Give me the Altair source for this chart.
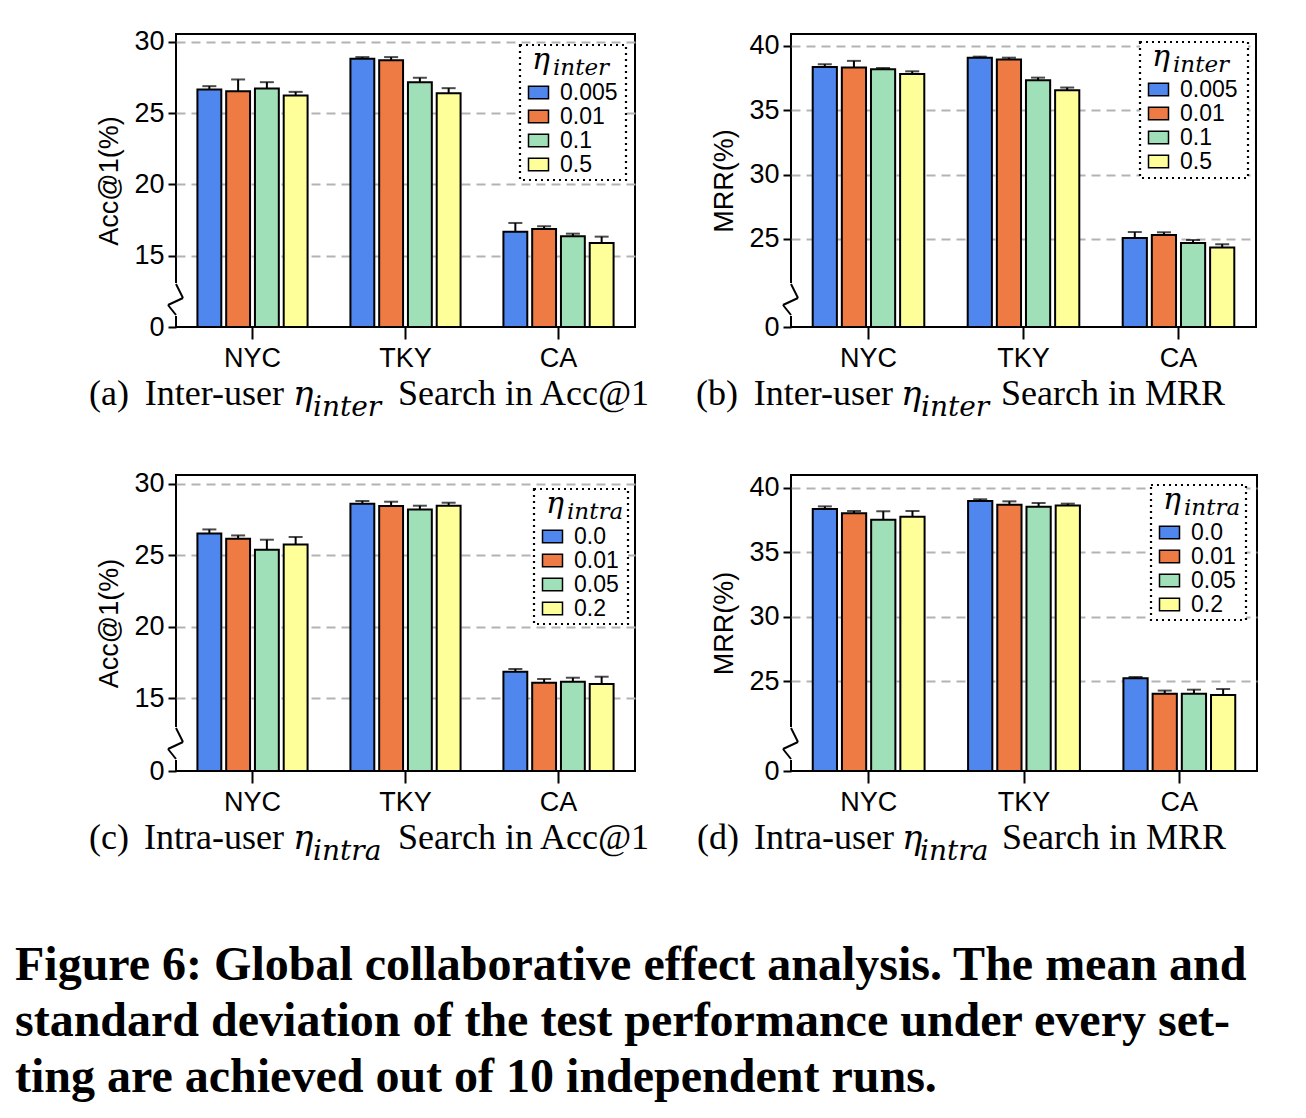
import altair as alt
import pandas as pd

CITIES = ["NYC", "TKY", "CA"]
INTER_LEVELS = ["0.005", "0.01", "0.1", "0.5"]
INTRA_LEVELS = ["0.0", "0.01", "0.05", "0.2"]
COLORS = ["#4F87EF", "#EE7A44", "#A0E0B8", "#FFFF99"]

# rows: NYC, TKY, CA ; columns: the four eta levels
A_MEAN = [[26.67, 26.55, 26.74, 26.24], [28.83, 28.71, 27.18, 26.41], [16.69, 16.88, 16.36, 15.89]]
A_STD = [[0.23, 0.82, 0.44, 0.26], [0.11, 0.23, 0.31, 0.35], [0.61, 0.19, 0.19, 0.45]]
B_MEAN = [[38.37, 38.32, 38.19, 37.83], [39.09, 38.94, 37.34, 36.56], [25.08, 25.31, 24.69, 24.33]]
B_STD = [[0.21, 0.52, 0.10, 0.20], [0.08, 0.15, 0.20, 0.21], [0.46, 0.21, 0.23, 0.26]]
C_MEAN = [[26.52, 26.15, 25.38, 25.75], [28.60, 28.44, 28.20, 28.46], [16.84, 16.07, 16.14, 15.98]]
C_STD = [[0.28, 0.23, 0.70, 0.52], [0.19, 0.30, 0.26, 0.21], [0.19, 0.26, 0.28, 0.51]]
D_MEAN = [[38.35, 38.01, 37.52, 37.75], [38.97, 38.68, 38.53, 38.61], [25.23, 24.04, 24.04, 23.94]]
D_STD = [[0.20, 0.18, 0.65, 0.44], [0.13, 0.26, 0.28, 0.15], [0.10, 0.24, 0.31, 0.46]]

FIG_CAPTION = [
    "Figure 6: Global collaborative effect analysis. The mean and",
    "standard deviation of the test performance under every set-",
    "ting are achieved out of 10 independent runs.",
]

SANS = "Liberation Sans"
SERIF = "Liberation Serif"
MATH = "DejaVu Serif"
RECT = "M-1,-0.62L1,-0.62L1,0.62L-1,0.62Z"
ONE = pd.DataFrame({"k": [0]})


def txt(s, x, y, font, size, style="normal", align="left"):
    return alt.Chart(ONE).mark_text(
        text=s, font=font, fontSize=size, fontStyle=style, align=align,
        baseline="alphabetic", color="black"
    ).encode(x=alt.value(x), y=alt.value(y))


def seg(x1, y1, x2, y2):
    return alt.Chart(ONE).mark_rule(color="black", strokeWidth=2).encode(
        x=alt.value(x1), y=alt.value(y1), x2=alt.value(x2), y2=alt.value(y2)
    )


def panel(mean, std, levels, ytitle, ydomain, yticks, W, H, box, cap):
    lx, ly, bw, bh = box
    rows = []
    for i, c in enumerate(CITIES):
        for j, l in enumerate(levels):
            rows.append(dict(city=c, level=l, mean=mean[i][j], hi=mean[i][j] + std[i][j]))
    df = pd.DataFrame(rows)
    xaxis = alt.Axis(title=None, labelAngle=0, labelFont=SANS, labelFontSize=27, labelColor="black",
                     domain=False, tickColor="black", tickWidth=2, tickSize=12, labelPadding=6, grid=False)
    x = alt.X("city:N", sort=CITIES, scale=alt.Scale(domain=CITIES, paddingInner=0.28, paddingOuter=0.14),
              axis=xaxis)
    xo = alt.XOffset("level:N", sort=levels,
                     scale=alt.Scale(domain=levels, paddingInner=0.17, paddingOuter=0))
    yscale = alt.Scale(domain=ydomain, nice=False, zero=False)
    thr = ydomain[0] + 1
    yaxis = alt.Axis(title=ytitle, values=yticks, format="d",
                     labelExpr=f"datum.value < {thr} ? '0' : datum.label",
                     grid=True, gridDash=[9, 6], gridColor="#b3b3b3", gridWidth=2,
                     gridOpacity=alt.condition(f"datum.value < {thr}", alt.value(0), alt.value(1)),
                     domain=False, tickColor="black", tickWidth=2, tickSize=8,
                     labelFont=SANS, labelFontSize=27, labelColor="black", labelPadding=4,
                     labelFlush=False, labelOverlap=False,
                     titleFont=SANS, titleFontSize=27, titleFontWeight="normal", titleColor="black",
                     titlePadding=10)
    color = alt.Color("level:N", sort=levels, scale=alt.Scale(domain=levels, range=COLORS),
                      legend=alt.Legend(title=None, orient="none", legendX=lx, legendY=ly + 29))
    base = alt.Chart(df)
    bars = base.mark_bar(stroke="black", strokeWidth=2).encode(
        x=x, xOffset=xo, y=alt.Y("mean:Q", scale=yscale, axis=yaxis), y2=alt.datum(ydomain[0]), color=color
    )
    err = base.mark_rule(color="black", strokeWidth=2).encode(
        x=x, xOffset=xo, y=alt.Y("mean:Q", scale=yscale, axis=yaxis), y2="hi:Q"
    )
    capm = base.mark_tick(color="black", thickness=2, size=14, orient="horizontal").encode(
        x=x, xOffset=xo, y=alt.Y("hi:Q", scale=yscale, axis=yaxis)
    )
    white = alt.Chart(ONE).mark_rect(color="white").encode(
        x=alt.value(-3), x2=alt.value(3), y=alt.value(H - 44), y2=alt.value(H - 11)
    )
    legbox = alt.Chart(ONE).mark_rect(fill="white", stroke="black", strokeDash=[2, 4], strokeWidth=2.2).encode(
        x=alt.value(lx), x2=alt.value(lx + bw), y=alt.value(ly), y2=alt.value(ly + bh)
    )
    zig = [seg(0, H - 43, 7, H - 29), seg(7, H - 29, -8, H - 22), seg(-8, H - 22, 0, H - 12)]
    lab, word, sub, rest, xs = cap
    by = H + 78
    texts = [
        txt(lab, xs[0], by, SERIF, 36),
        txt(word, xs[1], by, SERIF, 36, align="right"),
        txt("η", xs[2], by, MATH, 34, style="italic"),
        txt(sub, xs[3], by + 11, MATH, 28, style="italic"),
        txt(rest, xs[4], by, SERIF, 36),
        txt("η", lx + 12, ly + 24, MATH, 30, style="italic"),
        txt(sub, lx + 33, ly + 30, MATH, 23, style="italic"),
    ]
    return alt.layer(bars, err, capm, white, legbox, *zig, *texts).properties(width=W, height=H)


pa = panel(A_MEAN, A_STD, INTER_LEVELS, "Acc@1(%)", [10, 30.56], [10, 15, 20, 25, 30], 459, 293,
           (344, 11, 106, 135),
           ("(a)", "Inter-user", "inter", "Search in Acc@1", [-87, 108, 117, 137, 222]))
pb = panel(B_MEAN, B_STD, INTER_LEVELS, "MRR(%)", [18.16, 40.93], [18.16, 25, 30, 35, 40], 465, 293,
           (349, 8, 108, 136),
           ("(b)", "Inter-user", "inter", "Search in MRR", [-95, 102, 110, 130, 210]))
pc = panel(C_MEAN, C_STD, INTRA_LEVELS, "Acc@1(%)", [9.89, 30.61], [9.89, 15, 20, 25, 30], 459, 296,
           (358, 14, 94, 135),
           ("(c)", "Intra-user", "intra", "Search in Acc@1", [-87, 108, 117, 137, 222]))
pd_ = panel(D_MEAN, D_STD, INTRA_LEVELS, "MRR(%)", [18.05, 40.98], [18.05, 25, 30, 35, 40], 466, 296,
            (360, 10, 95, 135),
            ("(d)", "Intra-user", "intra", "Search in MRR", [-94, 103, 111, 129, 211]))

chart = alt.concat(
    pa, pb, pc, pd_, columns=2, spacing={"row": 148, "column": 156}, bounds="flush",
    title=alt.Title(text=FIG_CAPTION, orient="bottom", anchor="start", font=SERIF, fontSize=48,
                    fontWeight="bold", color="black", lineHeight=56, offset=75, dx=-73),
).resolve_scale(
    color="independent", x="independent", y="independent", xOffset="independent"
).properties(
    padding={"left": 15, "top": 26, "right": 10, "bottom": 10}
).configure(background="white").configure_view(
    stroke="black", strokeWidth=2
).configure_legend(
    strokeColor="transparent", padding=7,
    symbolType=RECT, symbolSize=400, symbolStrokeColor="black", symbolStrokeWidth=1.5, symbolOpacity=1,
    labelFont=SANS, labelFontSize=23, labelColor="black", labelOffset=10, rowPadding=0,
)

chart.save("out.html", embed_options={"renderer": "svg", "actions": False})
